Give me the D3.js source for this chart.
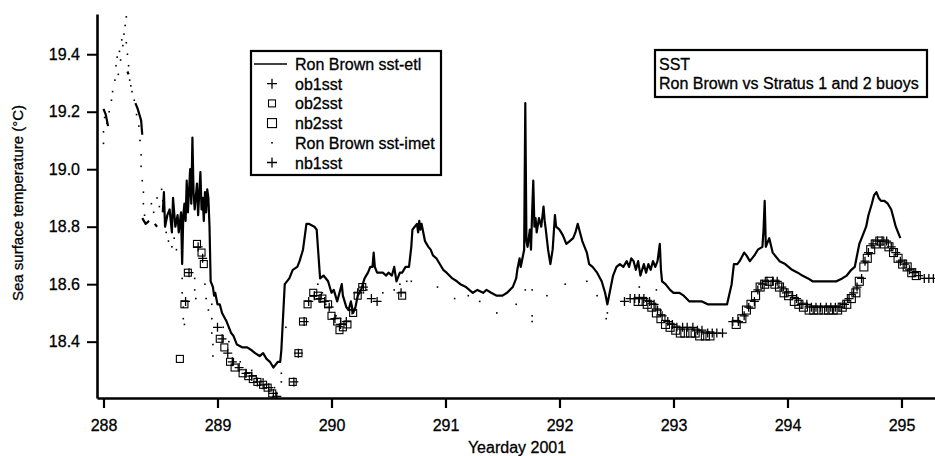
<!DOCTYPE html>
<html lang="en">
<head>
    <meta charset="UTF-8">
    <title>SST Ron Brown vs Stratus buoys</title>
    <style type="text/css">
        * { margin: 0; padding: 0; }
        body { background: white; }
        text { font-family: "Liberation Sans", Arial, sans-serif; fill: black; stroke: black; stroke-width: 0.3px; }
    </style>
</head>
<body>
<div id="chart-area"></div>
<script src="https://cdn.jsdelivr.net/npm/d3@7"></script>
<script type="text/javascript">
    // axis setup
    const xTicks = [288, 289, 290, 291, 292, 293, 294, 295]
    const yTicks = [18.4, 18.6, 18.8, 19.0, 19.2, 19.4]
    const xDomain = [287.943, 295.294]
    const yDomain = [18.204, 19.540]

    const legendLabels = ['Ron Brown sst-etl', 'ob1sst', 'ob2sst', 'nb2sst', 'Ron Brown sst-imet', 'nb1sst']
    const titleLines = ['SST', 'Ron Brown vs Stratus 1 and 2 buoys']

    // Ron Brown sst-etl [yearday, degC]; null = gap
    const etl = [
      [288.00,19.21],[288.02,19.19],[288.04,19.15],null,
      [288.21,19.34],[288.22,19.33],null,
      [288.28,19.23],[288.30,19.21],[288.33,19.17],[288.34,19.12],null,
      [288.34,18.83],[288.37,18.81],[288.40,18.82],null,
      [288.45,18.81],[288.47,18.80],null,
      [288.52,18.85],[288.53,18.92],[288.54,18.80],[288.56,18.84],[288.58,18.86],[288.60,18.78],[288.61,18.90],
      [288.63,18.80],[288.65,18.84],[288.66,18.78],[288.68,18.85],[288.69,18.67],[288.70,18.84],[288.71,18.88],
      [288.72,18.82],[288.73,18.96],[288.74,18.85],[288.75,18.92],[288.76,19.00],[288.77,18.88],[288.78,19.11],
      [288.79,18.92],[288.80,18.86],[288.82,18.95],[288.83,18.84],[288.85,18.99],[288.86,18.86],[288.87,18.90],
      [288.88,18.82],[288.89,18.92],[288.90,18.85],[288.91,18.93],[288.92,18.90],[288.93,18.80],[288.94,18.61],
      [288.95,18.60],[288.96,18.59],[288.97,18.56],[288.98,18.57],[289.00,18.53],[289.02,18.53],[289.04,18.50],
      [289.08,18.47],[289.12,18.43],[289.14,18.42],[289.17,18.39],[289.22,18.38],[289.26,18.38],[289.30,18.37],
      [289.33,18.36],[289.37,18.35],[289.40,18.36],[289.43,18.34],[289.46,18.33],[289.49,18.31],[289.51,18.32],
      [289.53,18.33],[289.55,18.33],[289.56,18.37],[289.59,18.60],[289.63,18.62],[289.66,18.65],[289.70,18.66],
      [289.72,18.68],[289.75,18.72],[289.78,18.81],[289.80,18.81],[289.85,18.80],[289.87,18.79],[289.90,18.62],
      [289.93,18.63],[289.97,18.61],[290.00,18.57],[290.02,18.58],[290.05,18.54],[290.07,18.57],[290.09,18.60],
      [290.10,18.56],[290.13,18.52],[290.15,18.51],[290.17,18.54],[290.19,18.50],[290.21,18.52],[290.23,18.56],
      [290.26,18.58],[290.29,18.62],[290.32,18.64],[290.34,18.66],[290.36,18.66],[290.37,18.71],[290.38,18.66],
      [290.40,18.64],[290.45,18.64],[290.48,18.63],[290.50,18.64],[290.53,18.63],[290.55,18.66],[290.57,18.61],
      [290.60,18.64],[290.62,18.64],[290.65,18.66],[290.68,18.66],[290.70,18.73],[290.71,18.79],[290.73,18.80],
      [290.75,18.81],[290.76,18.78],[290.77,18.82],[290.78,18.79],[290.79,18.81],[290.80,18.79],[290.82,18.75],
      [290.85,18.73],[290.87,18.72],[290.89,18.70],[290.92,18.69],[290.95,18.67],[290.98,18.65],[291.01,18.64],
      [291.06,18.62],[291.10,18.61],[291.13,18.60],[291.18,18.59],[291.24,18.57],[291.28,18.58],[291.33,18.57],
      [291.36,18.58],[291.40,18.57],[291.45,18.56],[291.50,18.56],[291.54,18.57],[291.59,18.59],[291.62,18.62],
      [291.63,18.65],[291.65,18.69],[291.66,18.66],[291.68,18.70],[291.69,18.72],[291.70,19.23],[291.71,18.75],
      [291.72,18.73],[291.74,18.79],[291.75,18.72],[291.76,18.85],[291.77,18.96],[291.78,18.80],[291.79,18.83],
      [291.80,18.78],[291.82,18.83],[291.84,18.80],[291.86,18.87],[291.87,18.82],[291.88,18.79],[291.90,18.72],
      [291.92,18.67],[291.94,18.72],[291.96,18.84],[291.97,18.80],[292.00,18.79],[292.03,18.77],[292.06,18.74],
      [292.09,18.75],[292.12,18.76],[292.14,18.78],[292.16,18.81],[292.18,18.78],[292.20,18.75],[292.24,18.71],
      [292.26,18.67],[292.29,18.66],[292.33,18.64],[292.37,18.61],[292.40,18.57],[292.42,18.53],[292.44,18.57],
      [292.47,18.63],[292.50,18.66],[292.53,18.67],[292.56,18.66],[292.59,18.68],[292.61,18.66],[292.63,18.69],
      [292.65,18.68],[292.67,18.65],[292.69,18.68],[292.71,18.63],[292.74,18.67],[292.76,18.64],[292.78,18.67],
      [292.80,18.65],[292.82,18.68],[292.84,18.66],[292.86,18.68],[292.88,18.74],[292.89,18.65],[292.90,18.61],
      [292.93,18.60],[292.97,18.58],[293.00,18.57],[293.05,18.57],[293.09,18.56],[293.14,18.54],[293.20,18.54],
      [293.25,18.54],[293.30,18.53],[293.38,18.53],[293.45,18.53],[293.47,18.53],[293.51,18.60],[293.53,18.67],
      [293.56,18.67],[293.58,18.68],[293.62,18.71],[293.64,18.70],[293.67,18.68],[293.71,18.70],[293.74,18.72],
      [293.78,18.73],[293.79,18.79],[293.80,18.89],[293.81,18.73],[293.82,18.74],[293.84,18.76],[293.87,18.71],
      [293.93,18.68],[293.98,18.67],[294.04,18.65],[294.09,18.64],[294.13,18.63],[294.18,18.62],[294.22,18.61],
      [294.28,18.61],[294.34,18.61],[294.39,18.61],[294.43,18.61],[294.48,18.62],[294.52,18.63],[294.56,18.65],
      [294.59,18.66],[294.63,18.74],[294.66,18.77],[294.69,18.80],[294.71,18.84],[294.74,18.88],[294.76,18.91],
      [294.78,18.92],[294.80,18.90],[294.82,18.89],[294.85,18.89],[294.88,18.88],[294.91,18.86],[294.93,18.83],
      [294.95,18.80],[294.97,18.78],[294.99,18.76]
    ]

    // Ron Brown sst-imet (dots)
    const imet = [
      [288.00,19.09],[288.00,19.13],[288.01,19.18],[288.03,19.16],[288.05,19.20],[288.07,19.24],[288.08,19.27],
      [288.10,19.31],[288.11,19.36],[288.12,19.39],[288.13,19.33],[288.14,19.41],[288.15,19.38],[288.16,19.45],
      [288.17,19.43],[288.18,19.47],[288.19,19.50],[288.20,19.53],[288.20,19.44],[288.21,19.40],[288.22,19.36],
      [288.23,19.31],[288.24,19.29],[288.25,19.27],[288.27,19.24],[288.29,19.19],[288.31,19.15],[288.32,19.10],
      [288.33,19.05],[288.33,19.01],[288.34,18.96],[288.35,18.92],[288.35,18.88],[288.36,18.84],
      [288.42,18.88],[288.44,18.85],[288.47,18.90],[288.49,18.87],[288.51,18.93],[288.52,18.89],
      [288.55,18.78],[288.57,18.75],[288.60,18.73],[288.62,18.76],[288.64,18.72],
      [288.69,18.62],[288.69,18.57],[288.70,18.52],[288.70,18.48],[288.71,18.46],
      [288.80,18.62],[288.80,18.58],[288.81,18.55],[288.89,18.60],[288.90,18.55],[288.92,18.51],
      [288.95,18.53],[288.95,18.48],[288.95,18.43],[288.96,18.39],[288.96,18.35],
      [289.05,18.45],[289.10,18.40],[289.20,18.33],[289.30,18.30],[289.40,18.27],[289.50,18.24],
      [289.56,18.26],[289.56,18.29],[289.60,18.45],
      [289.88,18.60],[289.92,18.57],[289.95,18.53],[290.00,18.52],[290.04,18.49],[290.08,18.48],[290.12,18.46],
      [290.28,18.57],[290.31,18.58],[290.45,18.57],[290.55,18.58],[290.60,18.60],[290.66,18.61],[290.70,18.61],
      [290.93,18.59],[291.08,18.55],[291.20,18.56],[291.30,18.54],[291.45,18.50],[291.62,18.53],
      [291.70,18.58],[291.76,18.58],[291.76,18.49],[291.76,18.47],[291.89,18.56],[292.05,18.60],
      [292.24,18.61],[292.33,18.56],[292.41,18.48],[292.42,18.50],[292.70,18.59],[292.85,18.58]
    ]

    // Stratus 1 buoy
    const ob1 = [
      [288.72,18.54],[288.75,18.64],[288.83,18.73],[288.87,18.69],[289.00,18.45],[289.04,18.41],[289.09,18.36],
      [289.13,18.33],[289.19,18.31],[289.25,18.29],[289.30,18.28],[289.35,18.26],[289.40,18.25],[289.45,18.24],
      [289.49,18.22],[289.52,18.21],
      [289.67,18.26],[289.71,18.36],[289.76,18.47],[289.80,18.54],[289.85,18.56],[289.90,18.55],[289.94,18.54],
      [289.98,18.52],[290.03,18.48],[290.08,18.46],[290.13,18.47],[290.18,18.51],[290.23,18.57],[290.28,18.59],
      [290.35,18.55],[290.40,18.54],[290.61,18.57]
    ]
    const ob2 = [
      [288.67,18.34],[288.71,18.53],[288.74,18.64],[288.82,18.74],[288.86,18.71],[288.88,18.67],
      [289.02,18.41],[289.06,18.38],[289.11,18.33],[289.15,18.31],[289.22,18.29],[289.27,18.28],[289.31,18.27],
      [289.35,18.26],[289.40,18.25],[289.44,18.24],[289.48,18.22],
      [289.66,18.26],[289.71,18.36],[289.75,18.47],[289.79,18.53],[289.84,18.57],[289.88,18.56],[289.92,18.55],
      [289.97,18.53],[290.00,18.49],[290.05,18.47],[290.07,18.44],[290.10,18.45],[290.14,18.46],[290.19,18.50],
      [290.23,18.56],[290.27,18.59],[290.62,18.56]
    ]

    // Stratus 2 buoy
    const nb1 = [
      [292.57,18.54],[292.62,18.55],[292.66,18.55],[292.70,18.55],[292.74,18.55],[292.79,18.54],[292.83,18.53],
      [292.86,18.51],[292.90,18.49],[292.95,18.47],[292.99,18.46],[293.03,18.45],[293.08,18.45],[293.12,18.45],
      [293.17,18.45],[293.21,18.44],[293.25,18.44],[293.30,18.43],[293.34,18.43],[293.38,18.43],[293.43,18.43],
      [293.52,18.47],[293.57,18.47],[293.62,18.49],[293.66,18.52],[293.71,18.54],[293.74,18.58],[293.78,18.60],
      [293.82,18.61],[293.87,18.61],[293.91,18.61],[293.95,18.59],[293.99,18.57],[294.04,18.56],[294.08,18.55],
      [294.12,18.53],[294.17,18.53],[294.21,18.52],[294.25,18.52],[294.29,18.52],[294.34,18.52],[294.38,18.52],
      [294.42,18.52],[294.46,18.52],[294.50,18.53],[294.54,18.55],[294.58,18.57],[294.61,18.59],[294.65,18.62],
      [294.68,18.68],[294.71,18.71],[294.75,18.74],[294.79,18.75],[294.83,18.75],[294.87,18.75],[294.91,18.73],
      [294.95,18.71],[294.99,18.68],[295.03,18.67],[295.07,18.65],[295.11,18.64],[295.15,18.63],[295.20,18.62],
      [295.24,18.62],[295.28,18.62]
    ]
    const nb2 = [
      [292.69,18.54],[292.73,18.54],[292.77,18.53],[292.81,18.52],[292.85,18.50],[292.89,18.48],[292.93,18.46],
      [292.97,18.45],[293.02,18.44],[293.06,18.43],[293.10,18.43],[293.15,18.43],[293.19,18.43],[293.23,18.42],
      [293.28,18.42],[293.32,18.42],
      [293.55,18.46],[293.60,18.48],[293.64,18.51],[293.68,18.53],[293.72,18.56],[293.76,18.59],[293.80,18.60],
      [293.84,18.61],[293.89,18.60],[293.93,18.59],[293.97,18.57],[294.01,18.56],[294.06,18.54],[294.10,18.53],
      [294.14,18.52],[294.19,18.51],[294.23,18.51],[294.27,18.51],[294.32,18.51],[294.36,18.51],[294.40,18.51],
      [294.44,18.51],[294.48,18.52],[294.52,18.53],[294.56,18.55],[294.60,18.57],[294.63,18.61],[294.67,18.66],
      [294.70,18.69],[294.73,18.72],[294.77,18.74],[294.81,18.75],[294.85,18.74],[294.89,18.73],[294.93,18.71],
      [294.97,18.69],[295.01,18.67],[295.05,18.66],[295.09,18.64],[295.13,18.63]
    ]

    const W = 935, H = 456
    const plot = {left: 97, right: 935, top: 14, bottom: 398}

    const svg = d3.select('#chart-area').append('svg')
    .attr('width', W)
    .attr('height', H)
    .style('background-color', 'white')

    const x = d3.scaleLinear().domain(xDomain).range([plot.left, plot.right])
    const y = d3.scaleLinear().domain(yDomain).range([plot.bottom, plot.top])

    svg.append('clipPath').attr('id', 'clip')
    .append('rect')
    .attr('x', plot.left).attr('y', plot.top)
    .attr('width', plot.right - plot.left).attr('height', plot.bottom - plot.top)

    const g = svg.append('g').attr('clip-path', 'url(#clip)')

    const plusPath = s => `M${-s},0H${s}M0,${-s}V${s}`

    // imet dots
    g.selectAll('.imet').data(imet).enter().append('rect')
    .attr('x', d => x(d[0]) - 0.8)
    .attr('y', d => y(d[1]) - 0.8)
    .attr('width', 1.6).attr('height', 1.6)
    .attr('fill', 'black')

    // buoy squares and pluses
    function squares(data, size) {
      g.selectAll(null).data(data).enter().append('rect')
      .attr('x', d => x(d[0]) - size / 2)
      .attr('y', d => y(d[1]) - size / 2)
      .attr('width', size).attr('height', size)
      .attr('fill', 'none')
      .attr('stroke', 'black')
      .attr('stroke-width', 1.1)
    }
    function pluses(data, size) {
      g.selectAll(null).data(data).enter().append('path')
      .attr('transform', d => `translate(${x(d[0])},${y(d[1])})`)
      .attr('d', plusPath(size))
      .attr('stroke', 'black')
      .attr('stroke-width', 1.3)
    }
    squares(ob2, 7)
    squares(nb2, 8)
    pluses(ob1, 4.5)
    pluses(nb1, 4.5)

    // etl line
    const line = d3.line()
    .defined(d => d !== null)
    .x(d => x(d[0]))
    .y(d => y(d[1]))

    g.append('path')
    .datum(etl)
    .attr('d', line)
    .attr('fill', 'none')
    .attr('stroke', 'black')
    .attr('stroke-width', 2.2)
    .attr('stroke-linejoin', 'round')

    // axes
    const xAxis = d3.axisBottom(x).tickValues(xTicks).tickFormat(d3.format('d'))
    .tickSize(10).tickSizeOuter(0).tickPadding(12)
    const gx = svg.append('g').attr('transform', `translate(0,${plot.bottom})`).call(xAxis)
    gx.select('.domain').attr('stroke-width', 2.6)
    gx.selectAll('.tick line').attr('stroke-width', 2.2)
    gx.selectAll('text').style('font-size', '16px').attr('fill', 'black')

    const yAxis = d3.axisLeft(y).tickValues(yTicks).tickFormat(d3.format('.1f'))
    .tickSize(10).tickSizeOuter(0).tickPadding(7)
    const gy = svg.append('g').attr('transform', `translate(${plot.left},0)`).call(yAxis)
    gy.select('.domain').attr('stroke-width', 2.6)
    gy.selectAll('.tick line').attr('stroke-width', 2)
    gy.selectAll('text').style('font-size', '16px').attr('fill', 'black')

    svg.append('text')
    .attr('transform', 'translate(23,203) rotate(-90)')
    .attr('text-anchor', 'middle')
    .style('font-size', '15px')
    .text('Sea surface temperature (°C)')

    svg.append('text')
    .attr('x', 517).attr('y', 453)
    .attr('text-anchor', 'middle')
    .style('font-size', '16px')
    .text('Yearday 2001')

    // legend
    const lg = svg.append('g')
    lg.append('rect')
    .attr('x', 251).attr('y', 51).attr('width', 190).attr('height', 124)
    .attr('fill', 'white').attr('stroke', 'black').attr('stroke-width', 2.2)

    const rowY = i => 70 + i * 19.7
    lg.selectAll('.lt').data(legendLabels).enter().append('text')
    .attr('x', 295).attr('y', (d, i) => rowY(i))
    .style('font-size', '16px')
    .text(d => d)

    const symX = 272
    lg.append('line')
    .attr('x1', 254).attr('x2', 287)
    .attr('y1', rowY(0) - 6).attr('y2', rowY(0) - 6)
    .attr('stroke', 'black').attr('stroke-width', 1.5)
    lg.append('path').attr('transform', `translate(${symX},${rowY(1) - 6})`)
    .attr('d', plusPath(5)).attr('stroke', 'black').attr('stroke-width', 1.3)
    lg.append('rect').attr('x', symX - 3.5).attr('y', rowY(2) - 9.5).attr('width', 7).attr('height', 7)
    .attr('fill', 'none').attr('stroke', 'black').attr('stroke-width', 1.1)
    lg.append('rect').attr('x', symX - 4.5).attr('y', rowY(3) - 10.5).attr('width', 9).attr('height', 9)
    .attr('fill', 'none').attr('stroke', 'black').attr('stroke-width', 1.1)
    lg.append('rect').attr('x', symX - 0.8).attr('y', rowY(4) - 6.8).attr('width', 1.6).attr('height', 1.6)
    .attr('fill', 'black')
    lg.append('path').attr('transform', `translate(${symX},${rowY(5) - 6})`)
    .attr('d', plusPath(5)).attr('stroke', 'black').attr('stroke-width', 1.3)

    // title box
    const tg = svg.append('g')
    tg.append('rect')
    .attr('x', 655).attr('y', 50).attr('width', 272).attr('height', 47)
    .attr('fill', 'white').attr('stroke', 'black').attr('stroke-width', 2.2)
    tg.selectAll('.tt').data(titleLines).enter().append('text')
    .attr('x', 659).attr('y', (d, i) => 70 + i * 18.5)
    .style('font-size', '16px')
    .text(d => d)
</script>
</body>
</html>
